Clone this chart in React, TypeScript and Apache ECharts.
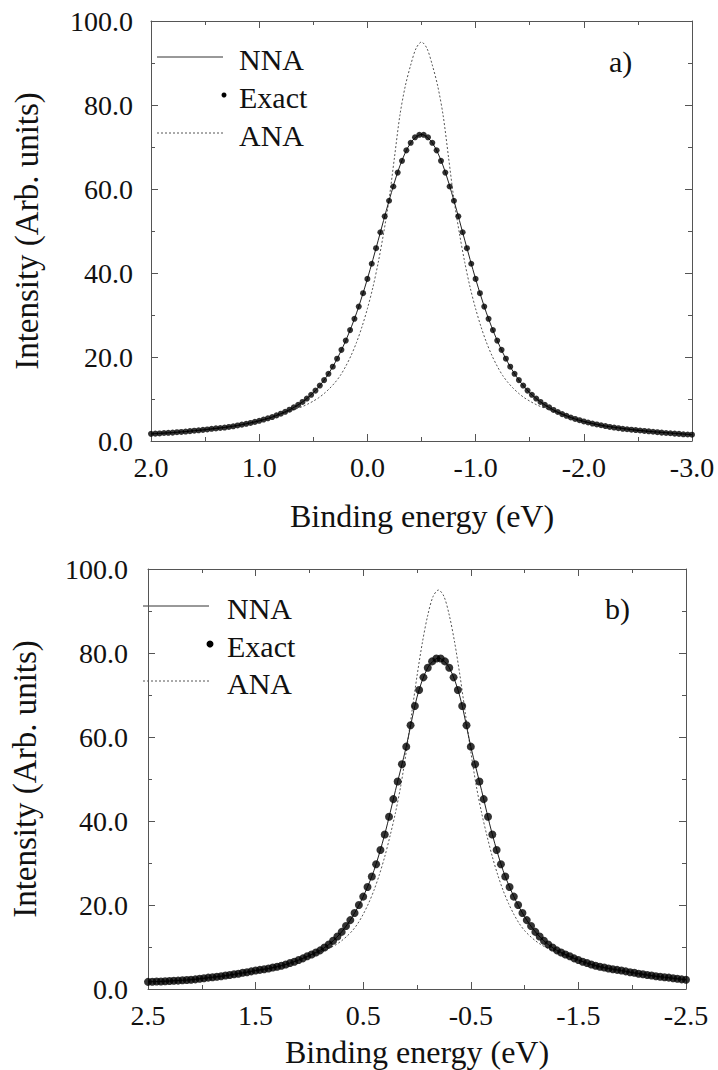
import React, { useEffect, useRef } from "react";
import * as echarts from "echarts";

// ---------- Panel a) ----------
const topExactE = [
  2.0, 1.96, 1.92, 1.88, 1.84, 1.8, 1.76, 1.72, 1.68, 1.64,
  1.6, 1.56, 1.52, 1.48, 1.44, 1.4, 1.36, 1.32, 1.28, 1.24,
  1.2, 1.16, 1.12, 1.08, 1.04, 1.0, 0.96, 0.92, 0.88, 0.84,
  0.8, 0.76, 0.72, 0.68, 0.64, 0.6, 0.56, 0.52, 0.48, 0.44,
  0.4, 0.36, 0.32, 0.28, 0.24, 0.2, 0.16, 0.12, 0.08, 0.04,
  0.0, -0.04, -0.08, -0.12, -0.16, -0.2, -0.24, -0.28, -0.32, -0.36,
  -0.4, -0.44, -0.48, -0.52, -0.56, -0.6, -0.64, -0.68, -0.72, -0.76,
  -0.8, -0.84, -0.88, -0.92, -0.96, -1.0, -1.04, -1.08, -1.12, -1.16,
  -1.2, -1.24, -1.28, -1.32, -1.36, -1.4, -1.44, -1.48, -1.52, -1.56,
  -1.6, -1.64, -1.68, -1.72, -1.76, -1.8, -1.84, -1.88, -1.92, -1.96,
  -2.0, -2.04, -2.08, -2.12, -2.16, -2.2, -2.24, -2.28, -2.32, -2.36,
  -2.4, -2.44, -2.48, -2.52, -2.56, -2.6, -2.64, -2.68, -2.72, -2.76,
  -2.8, -2.84, -2.88, -2.92, -2.96, -3.0,
];
const topExactI = [
  1.7, 1.75, 1.8, 1.9, 1.95, 2.0, 2.1, 2.15, 2.25, 2.35,
  2.45, 2.55, 2.65, 2.75, 2.9, 3.0, 3.1, 3.2, 3.35, 3.5,
  3.7, 3.9, 4.1, 4.3, 4.55, 4.8, 5.1, 5.4, 5.7, 6.1,
  6.5, 6.95, 7.45, 8.0, 8.6, 9.3, 10.1, 11.0, 12.0, 13.2,
  14.5, 16.0, 17.7, 19.6, 21.7, 23.9, 26.4, 29.1, 32.0, 35.2,
  38.6, 42.2, 45.9, 49.7, 53.5, 57.2, 60.6, 63.9, 66.7, 69.2,
  71.0, 72.3, 72.9,
  72.9, 72.3, 71.0, 69.2, 66.7, 63.9, 60.6, 57.2, 53.5, 49.7,
  45.9, 42.2, 38.6, 35.2, 32.0, 29.1, 26.4, 23.9, 21.7, 19.6,
  17.7, 16.0, 14.5, 13.2, 12.0, 11.0, 10.1, 9.3, 8.6, 8.0,
  7.4, 6.9, 6.4, 6.0, 5.6, 5.25, 4.95, 4.65, 4.4, 4.15,
  3.95, 3.75, 3.55, 3.35, 3.2, 3.05, 2.9, 2.8, 2.7, 2.6,
  2.5, 2.4, 2.3, 2.2, 2.1, 2.0, 1.9, 1.85, 1.75, 1.7,
  1.6, 1.55, 1.5,
];
const topNnaE = [
  2.0, 1.9, 1.8, 1.7, 1.6, 1.5, 1.4, 1.3, 1.2, 1.1,
  1.0, 0.9, 0.8, 0.7, 0.6, 0.5, 0.4, 0.3, 0.2, 0.1,
  0.0, -0.1, -0.2, -0.3, -0.4, -0.5, -0.6, -0.7, -0.8, -0.9,
  -1.0, -1.1, -1.2, -1.3, -1.4, -1.5, -1.6, -1.7, -1.8, -1.9,
  -2.0, -2.1, -2.2, -2.3, -2.4, -2.5, -2.6, -2.7, -2.8, -2.9, -3.0,
];
const topNnaI = [
  1.7, 1.85, 2.0, 2.2, 2.45, 2.7, 3.0, 3.3, 3.7, 4.2,
  4.8, 5.5, 6.5, 7.7, 9.3, 11.5, 14.5, 18.6, 23.9, 30.5,
  38.6, 47.8, 57.2, 65.5, 71.0, 73.0, 71.0, 65.5, 57.2, 47.8,
  38.6, 30.5, 23.9, 18.6, 14.5, 11.5, 9.3, 7.65, 6.4, 5.4,
  4.65, 4.05, 3.55, 3.2, 2.85, 2.55, 2.3, 2.1, 1.9, 1.7, 1.5,
];
const topAnaE = [
  2.0, 1.95, 1.9, 1.85, 1.8, 1.75, 1.7, 1.65, 1.6, 1.55,
  1.5, 1.45, 1.4, 1.35, 1.3, 1.25, 1.2, 1.15, 1.1, 1.05,
  1.0, 0.95, 0.9, 0.85, 0.8, 0.75, 0.7, 0.65, 0.6, 0.55,
  0.5, 0.45, 0.4, 0.35, 0.3, 0.25, 0.2, 0.15, 0.1, 0.05,
  0.0, -0.05, -0.1, -0.15, -0.2, -0.25, -0.3, -0.35, -0.4, -0.45,
  -0.5, -0.55, -0.6, -0.65, -0.7, -0.75, -0.8, -0.85, -0.9, -0.95,
  -1.0, -1.05, -1.1, -1.15, -1.2, -1.25, -1.3, -1.35, -1.4, -1.45,
  -1.5, -1.55, -1.6, -1.65, -1.7, -1.75, -1.8, -1.85, -1.9, -1.95,
  -2.0, -2.05, -2.1, -2.15, -2.2, -2.25, -2.3, -2.35, -2.4, -2.45,
  -2.5, -2.55, -2.6, -2.65, -2.7, -2.75, -2.8, -2.85, -2.9, -2.95, -3.0,
];
const topAnaI = [
  1.7, 1.8, 1.85, 1.95, 2.0, 2.1, 2.2, 2.35, 2.45, 2.6,
  2.7, 2.85, 3.0, 3.15, 3.3, 3.5, 3.7, 3.95, 4.2, 4.5,
  4.8, 5.2, 5.55, 6.05, 6.45, 6.9, 7.3, 7.75, 8.2, 8.8,
  9.5, 10.3, 11.3, 12.5, 13.9, 15.6, 17.8, 20.4, 23.5, 27.2,
  31.5, 36.5, 42.5, 49.5, 57.5, 67.5, 77.5, 84.5, 89.5, 93.5,
  95.0,
  93.5, 89.5, 84.5, 77.5, 67.5, 57.5, 49.5, 42.5, 36.5, 31.5,
  27.2, 23.5, 20.4, 17.8, 15.6, 13.9, 12.5, 11.3, 10.3, 9.5,
  8.8, 8.2, 7.75, 7.25, 6.8, 6.35, 5.95, 5.4, 5.05, 4.65,
  4.35, 4.05, 3.8, 3.55, 3.35, 3.2, 3.0, 2.85, 2.7, 2.55,
  2.45, 2.3, 2.2, 2.1, 2.0, 1.9, 1.8, 1.7, 1.6, 1.5,
];

// ---------- Panel b) ----------
const botExactE = [
  2.5, 2.46, 2.42, 2.38, 2.34, 2.3, 2.26, 2.22, 2.18, 2.14,
  2.1, 2.06, 2.02, 1.98, 1.94, 1.9, 1.86, 1.82, 1.78, 1.74,
  1.7, 1.66, 1.62, 1.58, 1.54, 1.5, 1.46, 1.42, 1.38, 1.34,
  1.3, 1.26, 1.22, 1.18, 1.14, 1.1, 1.06, 1.02, 0.98, 0.94,
  0.9, 0.86, 0.82, 0.78, 0.74, 0.7, 0.66, 0.62, 0.58, 0.54,
  0.5, 0.46, 0.42, 0.38, 0.34, 0.3, 0.26, 0.22, 0.18, 0.14,
  0.1, 0.06, 0.02, -0.02, -0.06, -0.1, -0.14, -0.18, -0.22, -0.26,
  -0.3, -0.34, -0.38, -0.42, -0.46, -0.5, -0.54, -0.58, -0.62, -0.66,
  -0.7, -0.74, -0.78, -0.82, -0.86, -0.9, -0.94, -0.98, -1.02, -1.06,
  -1.1, -1.14, -1.18, -1.22, -1.26, -1.3, -1.34, -1.38, -1.42, -1.46,
  -1.5, -1.54, -1.58, -1.62, -1.66, -1.7, -1.74, -1.78, -1.82, -1.86,
  -1.9, -1.94, -1.98, -2.02, -2.06, -2.1, -2.14, -2.18, -2.22, -2.26,
  -2.3, -2.34, -2.38, -2.42, -2.46, -2.5,
];
const botExactI = [
  1.7, 1.74, 1.78, 1.8, 1.85, 1.9, 1.95, 2.0, 2.1, 2.15,
  2.2, 2.3, 2.45, 2.55, 2.7, 2.8, 2.9, 3.05, 3.2, 3.35,
  3.5, 3.65, 3.85, 4.0, 4.2, 4.4, 4.55, 4.7, 4.9, 5.1,
  5.3, 5.55, 5.85, 6.2, 6.5, 6.9, 7.3, 7.8, 8.2, 8.7,
  9.2, 9.9, 10.6, 11.5, 12.5, 13.6, 15.0, 16.4, 18.1, 20.0,
  22.0, 24.3, 26.8, 29.7, 33.1, 36.8, 41.0, 45.2, 49.4, 53.5,
  57.7, 62.8, 67.4, 71.2, 74.2, 76.5, 78.0, 78.7,
  78.7, 78.0, 76.5, 74.2, 71.2, 67.4, 62.8, 57.7, 53.5, 49.4,
  45.2, 41.0, 36.8, 33.1, 29.7, 26.8, 24.3, 22.0, 20.0, 18.1,
  16.4, 15.0, 13.6, 12.5, 11.5, 10.6, 9.9, 9.2, 8.7, 8.2,
  7.8, 7.3, 6.9, 6.5, 6.2, 5.85, 5.55, 5.3, 5.1, 4.9,
  4.7, 4.55, 4.4, 4.2, 4.0, 3.85, 3.65, 3.5, 3.35, 3.2,
  3.05, 2.9, 2.8, 2.7, 2.55, 2.45, 2.3, 2.2,
];
const botNnaE = [
  2.5, 2.4, 2.3, 2.2, 2.1, 2.0, 1.9, 1.8, 1.7, 1.6,
  1.5, 1.4, 1.3, 1.2, 1.1, 1.0, 0.9, 0.8, 0.7, 0.6,
  0.5, 0.4, 0.3, 0.2, 0.1, 0.0, -0.1, -0.2, -0.3, -0.4,
  -0.5, -0.6, -0.7, -0.8, -0.9, -1.0, -1.1, -1.2, -1.3, -1.4,
  -1.5, -1.6, -1.7, -1.8, -1.9, -2.0, -2.1, -2.2, -2.3, -2.4, -2.5,
];
const botNnaI = [
  1.7, 1.8, 1.9, 2.05, 2.2, 2.5, 2.8, 3.1, 3.5, 3.9,
  4.4, 4.8, 5.3, 6.0, 6.9, 8.0, 9.2, 11.0, 13.6, 17.2,
  22.0, 28.2, 36.8, 47.3, 57.7, 69.5, 76.5, 78.8, 76.5, 69.5,
  57.7, 47.3, 36.8, 28.2, 22.0, 17.2, 13.6, 11.0, 9.2, 8.0,
  6.9, 6.0, 5.3, 4.8, 4.4, 3.9, 3.5, 3.1, 2.8, 2.5, 2.2,
];
const botAnaE = [
  2.5, 2.45, 2.4, 2.35, 2.3, 2.25, 2.2, 2.15, 2.1, 2.05,
  2.0, 1.95, 1.9, 1.85, 1.8, 1.75, 1.7, 1.65, 1.6, 1.55,
  1.5, 1.45, 1.4, 1.35, 1.3, 1.25, 1.2, 1.15, 1.1, 1.05,
  1.0, 0.95, 0.9, 0.85, 0.8, 0.75, 0.7, 0.65, 0.6, 0.55,
  0.5, 0.45, 0.4, 0.35, 0.3, 0.25, 0.2, 0.15, 0.1, 0.05,
  0.0, -0.05, -0.1, -0.15, -0.2, -0.25, -0.3, -0.35, -0.4, -0.45,
  -0.5, -0.55, -0.6, -0.65, -0.7, -0.75, -0.8, -0.85, -0.9, -0.95,
  -1.0, -1.05, -1.1, -1.15, -1.2, -1.25, -1.3, -1.35, -1.4, -1.45,
  -1.5, -1.55, -1.6, -1.65, -1.7, -1.75, -1.8, -1.85, -1.9, -1.95,
  -2.0, -2.05, -2.1, -2.15, -2.2, -2.25, -2.3, -2.35, -2.4, -2.45, -2.5,
];
const botAnaI = [
  1.7, 1.75, 1.8, 1.85, 1.9, 1.95, 2.05, 2.1, 2.2, 2.35,
  2.5, 2.65, 2.8, 2.95, 3.1, 3.3, 3.5, 3.7, 3.9, 4.15,
  4.4, 4.55, 4.8, 5.05, 5.3, 5.6, 6.0, 6.45, 6.85, 7.35,
  7.85, 8.35, 8.85, 9.35, 9.9, 10.6, 11.5, 12.6, 13.9, 15.6,
  17.8, 20.4, 23.5, 27.2, 31.5, 36.5, 42.0, 48.5, 56.5, 65.5,
  74.5, 82.5, 89.0, 93.5,
  95.0,
  93.5, 89.0, 82.5, 74.5, 65.5, 56.5, 48.5, 42.0, 36.5, 31.5,
  27.2, 23.5, 20.4, 17.8, 15.6, 13.9, 12.6, 11.5, 10.6, 9.9,
  9.35, 8.85, 8.35, 7.85, 7.35, 6.85, 6.45, 6.0, 5.6, 5.3,
  5.05, 4.8, 4.55, 4.4, 4.15, 3.9, 3.7, 3.5, 3.3, 3.1,
  2.95, 2.8, 2.65, 2.5, 2.35, 2.2,
];

const legendNames = ["NNA", "Exact", "ANA"];
const panelLabels = ["a)", "b)"];
const xTitle = "Binding energy (eV)";
const yTitle = "Intensity (Arb. units)";

const SERIF = "Liberation Serif";
const AXIS = "#555";
const INK = "#111";

const zip = (xs: number[], ys: number[]) => xs.map((x, i) => [x, ys[i]]);
const fmt = (v: number) => (Math.abs(v) < 1e-9 ? 0 : v).toFixed(1);

const labelStyle = (margin: number) => ({
  show: true,
  formatter: fmt,
  color: INK,
  fontFamily: SERIF,
  fontSize: 28,
  margin,
  showMinLabel: true,
  showMaxLabel: true,
});

function xPair(grid: number, min: number, max: number) {
  const common = {
    type: "value" as const,
    gridIndex: grid,
    min,
    max,
    interval: 1,
    inverse: true,
    splitLine: { show: false },
    axisLine: { show: true, onZero: false, lineStyle: { color: AXIS, width: 1 } },
    axisTick: { show: true, inside: true, length: 7, lineStyle: { color: AXIS, width: 1 } },
    minorTick: { show: true, splitNumber: 2, length: 4, lineStyle: { color: AXIS, width: 1 } },
  };
  return [
    { ...common, position: "bottom", axisLabel: labelStyle(12) },
    { ...common, position: "top", axisLabel: { show: false } },
  ];
}

function yPair(grid: number, margin: number) {
  const common = {
    type: "value" as const,
    gridIndex: grid,
    min: 0,
    max: 100,
    interval: 20,
    splitLine: { show: false },
    axisLine: { show: true, onZero: false, lineStyle: { color: AXIS, width: 1 } },
    axisTick: { show: true, inside: true, length: 7, lineStyle: { color: AXIS, width: 1 } },
    minorTick: { show: true, splitNumber: 2, length: 4, lineStyle: { color: AXIS, width: 1 } },
  };
  return [
    { ...common, position: "left", axisLabel: labelStyle(margin) },
    { ...common, position: "right", axisLabel: { show: false } },
  ];
}

function seriesFor(
  xi: number,
  yi: number,
  nna: number[][],
  exact: number[][],
  ana: number[][],
  dot: number
) {
  return [
    {
      name: legendNames[2],
      type: "line",
      xAxisIndex: xi,
      yAxisIndex: yi,
      data: ana,
      showSymbol: false,
      smooth: 0.3,
      lineStyle: { color: "#555", width: 1, type: [2, 2] },
      z: 2,
    },
    {
      name: legendNames[0],
      type: "line",
      xAxisIndex: xi,
      yAxisIndex: yi,
      data: nna,
      showSymbol: false,
      smooth: 0.3,
      lineStyle: { color: "#222", width: 1 },
      z: 3,
    },
    {
      name: legendNames[1],
      type: "scatter",
      xAxisIndex: xi,
      yAxisIndex: yi,
      data: exact,
      symbol: "circle",
      symbolSize: dot,
      itemStyle: { color: "#000" },
      z: 4,
    },
  ];
}

function txt(x: number, y: number, text: string, size: number, align = "left", rotation = 0) {
  return {
    type: "text",
    x,
    y,
    rotation,
    silent: true,
    style: {
      text,
      fill: INK,
      fontFamily: SERIF,
      fontSize: size,
      align,
      verticalAlign: "middle",
    },
  };
}

function legend(x0: number, x1: number, yN: number, yE: number, yA: number, r: number, tx: number) {
  return [
    { type: "line", silent: true, shape: { x1: x0, y1: yN, x2: x1, y2: yN }, style: { stroke: "#333", lineWidth: 1 } },
    { type: "circle", silent: true, shape: { cx: x1 + 1, cy: yE, r }, style: { fill: "#000" } },
    {
      type: "line",
      silent: true,
      shape: { x1: x0, y1: yA, x2: x1, y2: yA },
      style: { stroke: "#555", lineWidth: 1, lineDash: [2, 2] },
    },
    txt(tx, yN + 2, legendNames[0], 30),
    txt(tx, yE + 2, legendNames[1], 30),
    txt(tx, yA + 2, legendNames[2], 30),
  ];
}

export default function App() {
  const ref = useRef<HTMLDivElement>(null);
  useEffect(() => {
    document.body.style.margin = "0";
    if (!ref.current) return;
    const chart = echarts.init(ref.current, null, { renderer: "svg" });
    const option: any = {
      animation: false,
      backgroundColor: "#fff",
      textStyle: { fontFamily: SERIF },
      grid: [
        { left: 151, top: 21, width: 541, height: 420 },
        { left: 148, top: 569, width: 538, height: 420 },
      ],
      xAxis: [...xPair(0, -3, 2), ...xPair(1, -2.5, 2.5)],
      yAxis: [...yPair(0, 18), ...yPair(1, 20)],
      series: [
        ...seriesFor(0, 0, zip(topNnaE, topNnaI), zip(topExactE, topExactI), zip(topAnaE, topAnaI), 6),
        ...seriesFor(2, 2, zip(botNnaE, botNnaI), zip(botExactE, botExactI), zip(botAnaE, botAnaI), 8),
      ],
      graphic: [
        ...legend(157, 223, 57, 95, 133, 2.5, 239),
        ...legend(143, 209, 606, 644, 681, 3.5, 227),
        txt(609, 61, panelLabels[0], 30),
        txt(605, 608, panelLabels[1], 30),
        txt(422, 516, xTitle, 32, "center"),
        txt(417, 1052, xTitle, 32, "center"),
        txt(27, 231, yTitle, 33, "center", Math.PI / 2),
        txt(25, 779, yTitle, 33, "center", Math.PI / 2),
      ],
    };
    chart.setOption(option);
    return () => chart.dispose();
  }, []);
  return (
    <div style={{ position: "relative", width: 718, height: 1070 }}>
      <div ref={ref} style={{ width: 718, height: 1070 }} />
      <div
        aria-hidden="true"
        style={{
          position: "absolute",
          left: 0,
          top: 0,
          width: 1,
          height: 1,
          overflow: "hidden",
          fontFamily: "Liberation Serif",
          color: "transparent",
          pointerEvents: "none",
        }}
      />
    </div>
  );
}
